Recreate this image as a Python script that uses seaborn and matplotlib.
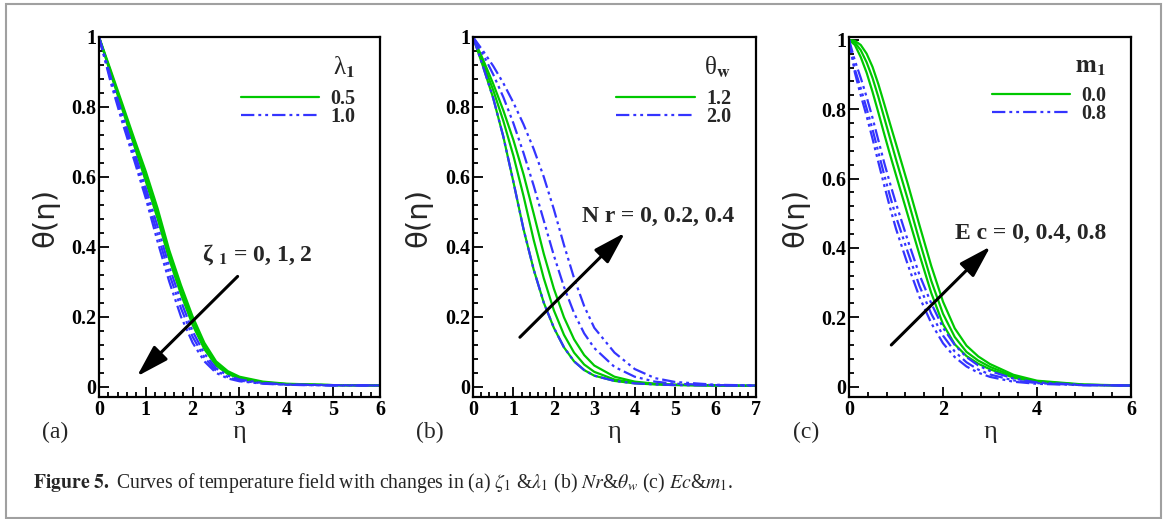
import matplotlib
matplotlib.use("Agg")
import matplotlib.pyplot as plt
from matplotlib.patches import Rectangle
from matplotlib.ticker import MultipleLocator
import seaborn as sns

sns.set_theme(style="white")
plt.rcParams["font.family"] = ["Liberation Serif", "DejaVu Serif"]
plt.rcParams["mathtext.fontset"] = "stix"

GREEN = "#00c800"
BLUE = "#3434ff"
DASHDOTDOT = (0, (6, 1.8, 1.3, 1.8, 1.3, 1.8))

# ---------------- (a) zeta_1 & lambda_1 ----------------
eta_a = [0, 0.25, 0.5, 0.75, 1.0, 1.25, 1.5, 1.75, 2.0, 2.25, 2.5, 2.75, 3.0, 3.5, 4.0, 5.0, 6.0]
theta_a_lam05 = [  # zeta_1 = 0, 1, 2
    [1.0, 0.905, 0.808, 0.71, 0.615, 0.51, 0.39, 0.29, 0.20, 0.125, 0.072, 0.044, 0.028, 0.014, 0.008, 0.004, 0.003],
    [1.0, 0.900, 0.800, 0.70, 0.600, 0.495, 0.377, 0.277, 0.188, 0.116, 0.066, 0.040, 0.025, 0.012, 0.007, 0.004, 0.003],
    [1.0, 0.895, 0.792, 0.69, 0.587, 0.481, 0.364, 0.264, 0.176, 0.107, 0.060, 0.036, 0.023, 0.011, 0.006, 0.004, 0.003],
]
theta_a_lam10 = [
    [1.0, 0.885, 0.778, 0.673, 0.568, 0.458, 0.343, 0.244, 0.158, 0.094, 0.052, 0.031, 0.020, 0.010, 0.006, 0.004, 0.003],
    [1.0, 0.878, 0.766, 0.660, 0.552, 0.437, 0.322, 0.224, 0.142, 0.083, 0.045, 0.027, 0.017, 0.009, 0.005, 0.003, 0.003],
    [1.0, 0.870, 0.755, 0.648, 0.538, 0.415, 0.300, 0.200, 0.125, 0.072, 0.039, 0.023, 0.015, 0.008, 0.005, 0.003, 0.003],
]
legend_a = ["0.5", "1.0"]

# ---------------- (b) Nr & theta_w ----------------
eta_b = [0, 0.25, 0.5, 0.75, 1.0, 1.25, 1.5, 1.75, 2.0, 2.25, 2.5, 2.75, 3.0, 3.5, 4.0, 4.5, 5.0, 6.0, 7.0]
theta_b_w12 = [  # Nr = 0, 0.2, 0.4
    [1.0, 0.915, 0.825, 0.715, 0.585, 0.450, 0.335, 0.240, 0.168, 0.112, 0.072, 0.047, 0.031, 0.016, 0.009, 0.006, 0.004, 0.003, 0.002],
    [1.0, 0.925, 0.848, 0.760, 0.660, 0.545, 0.420, 0.310, 0.218, 0.148, 0.097, 0.063, 0.042, 0.020, 0.011, 0.007, 0.005, 0.003, 0.002],
    [1.0, 0.935, 0.866, 0.790, 0.705, 0.607, 0.495, 0.380, 0.280, 0.198, 0.135, 0.090, 0.060, 0.028, 0.014, 0.008, 0.005, 0.003, 0.002],
]
theta_b_w20 = [
    [1.0, 0.915, 0.825, 0.715, 0.585, 0.450, 0.335, 0.240, 0.168, 0.112, 0.072, 0.047, 0.031, 0.016, 0.009, 0.006, 0.004, 0.003, 0.002],
    [1.0, 0.950, 0.893, 0.828, 0.753, 0.668, 0.575, 0.475, 0.375, 0.285, 0.210, 0.152, 0.110, 0.056, 0.028, 0.014, 0.008, 0.004, 0.003],
    [1.0, 0.960, 0.917, 0.868, 0.812, 0.750, 0.680, 0.600, 0.507, 0.405, 0.310, 0.230, 0.168, 0.097, 0.050, 0.024, 0.013, 0.005, 0.003],
]
legend_b = ["1.2", "2.0"]

# ---------------- (c) Ec & m_1 ----------------
eta_c = [0, 0.125, 0.25, 0.375, 0.5, 0.625, 0.75, 0.875, 1.0, 1.25, 1.5, 1.75, 2.0,
         2.25, 2.5, 2.75, 3.0, 3.5, 4.0, 5.0, 6.0]
theta_c_m00 = [  # Ec = 0, 0.4, 0.8
    [1.0, 0.985, 0.950, 0.905, 0.850, 0.790, 0.728, 0.668, 0.610, 0.495, 0.380, 0.270, 0.180,
     0.122, 0.088, 0.066, 0.050, 0.026, 0.013, 0.005, 0.003],
    [1.0, 0.992, 0.970, 0.935, 0.890, 0.835, 0.775, 0.715, 0.655, 0.540, 0.420, 0.305, 0.210,
     0.143, 0.100, 0.075, 0.057, 0.030, 0.015, 0.005, 0.003],
    [1.0, 0.997, 0.985, 0.960, 0.922, 0.872, 0.815, 0.757, 0.700, 0.585, 0.465, 0.348, 0.245,
     0.168, 0.118, 0.087, 0.065, 0.034, 0.017, 0.006, 0.003],
]
theta_c_m08 = [
    [1.0, 0.905, 0.840, 0.780, 0.715, 0.647, 0.580, 0.515, 0.455, 0.352, 0.258, 0.183, 0.125,
     0.085, 0.058, 0.040, 0.028, 0.014, 0.008, 0.004, 0.003],
    [1.0, 0.915, 0.860, 0.802, 0.742, 0.676, 0.610, 0.548, 0.490, 0.388, 0.290, 0.210, 0.147,
     0.101, 0.070, 0.049, 0.035, 0.018, 0.010, 0.004, 0.003],
    [1.0, 0.940, 0.890, 0.835, 0.775, 0.710, 0.645, 0.585, 0.528, 0.422, 0.322, 0.240, 0.170,
     0.120, 0.085, 0.061, 0.045, 0.023, 0.012, 0.005, 0.003],
]
legend_c = ["0.0", "0.8"]

y_ticks = [0, 0.2, 0.4, 0.6, 0.8, 1.0]
y_ticklabels = ["0", "0.2", "0.4", "0.6", "0.8", "1"]

W, H = 1168, 519
fig = plt.figure(figsize=(W / 100, H / 100), dpi=100)
fig.patch.set_facecolor("white")


def axes_box(left, right, top=37, bottom=397):
    return [left / W, 1 - bottom / H, (right - left) / W, (bottom - top) / H]


def draw_panel(ax, eta, green_sets, blue_sets, labels, title, xmax, xstep, ymax=1.0):
    handles = []
    for i, th in enumerate(green_sets):
        sns.lineplot(x=eta, y=th, ax=ax, color=GREEN, lw=1.6, estimator=None,
                     sort=False, legend=False)
        if i == 0:
            handles.append(ax.lines[-1])
    for i, th in enumerate(blue_sets):
        sns.lineplot(x=eta, y=th, ax=ax, color=BLUE, lw=1.6, linestyle=DASHDOTDOT,
                     estimator=None, sort=False, legend=False)
        if i == 0:
            handles.append(ax.lines[-1])

    ax.set_xlim(0, xmax)
    ax.set_ylim(-0.03, ymax)
    xt = list(range(0, xmax + 1, xstep))
    ax.set_xticks(xt, [str(v) for v in xt], fontweight="bold", fontsize=14.5)
    ax.set_yticks(y_ticks, y_ticklabels, fontweight="bold", fontsize=14.5)
    ax.xaxis.set_minor_locator(MultipleLocator(xstep / 5))
    ax.yaxis.set_minor_locator(MultipleLocator(0.04))
    ax.tick_params(which="both", direction="in", left=True, bottom=True,
                   top=False, right=False, width=1.3, colors="black")
    ax.tick_params(which="major", length=7, pad=2)
    ax.tick_params(which="minor", length=3.5)
    for sp in ax.spines.values():
        sp.set_color("black")
        sp.set_linewidth(1.6)
    ax.set_facecolor("white")

    ax.set_xlabel("η", fontsize=19)
    ax.xaxis.set_label_coords(0.5, -0.068)
    ax.set_ylabel("θ(η)", fontsize=21, family="DejaVu Sans")
    ax.yaxis.set_label_coords(-0.142, 0.5)

    leg = ax.legend(handles, labels, title=title, loc="upper right",
                    bbox_to_anchor=(0.948, 0.978), frameon=False, fontsize=14.5,
                    title_fontsize=18, handlelength=3.9, handletextpad=0.55,
                    labelspacing=-0.1, borderpad=0, alignment="right")
    # extra room between the legend title and its entries
    leg._legend_box.sep = 6
    for t in leg.get_texts():
        t.set_fontweight("bold")
    return ax


arrow_style = dict(arrowstyle="-|>,head_length=1.1,head_width=0.33",
                   mutation_scale=18, lw=2.2, color="black", shrinkA=0, shrinkB=0)

ax_a = fig.add_axes(axes_box(99, 380))
draw_panel(ax_a, eta_a, theta_a_lam05, theta_a_lam10, legend_a,
           r"λ$_{\mathbf{1}}$", 6, 1)
ax_a.annotate("", xy=(0.81, 0.029), xytext=(2.96, 0.315), arrowprops=arrow_style)
ax_a.text(2.2, 0.377, r"ζ $_{\mathbf{1}}$ = 0, 1, 2", fontsize=17,
          fontweight="bold", va="center", ha="left")

ax_b = fig.add_axes(axes_box(473, 756))
draw_panel(ax_b, eta_b, theta_b_w12, theta_b_w20, legend_b,
           r"θ$_{\mathbf{w}}$", 7, 1)
ax_b.annotate("", xy=(3.76, 0.44), xytext=(1.16, 0.141), arrowprops=arrow_style)
ax_b.text(2.7, 0.486, "N r = 0, 0.2, 0.4", fontsize=17, fontweight="bold",
          va="center", ha="left")

ax_c = fig.add_axes(axes_box(849, 1131))
draw_panel(ax_c, eta_c, theta_c_m00, theta_c_m08, legend_c,
           r"$\mathbf{m_1}$", 6, 2, ymax=1.008)
ax_c.annotate("", xy=(3.01, 0.404), xytext=(0.9, 0.12), arrowprops=arrow_style)
ax_c.text(2.26, 0.443, "E c = 0, 0.4, 0.8", fontsize=17, fontweight="bold",
          va="center", ha="left")

# panel tags
for tag, xpix in (("(a)", 55), ("(b)", 430), ("(c)", 806)):
    fig.text(xpix / W, 1 - 432 / H, tag, ha="center", va="center", fontsize=17)

# caption
fig.text(33 / W, 1 - 483 / H,
         r"$\mathbf{Figure\ 5.}$ Curves of temperature field with changes in "
         r"(a) $\zeta_1$ &$\lambda_1$ (b) $Nr$&$\theta_w$ (c) $Ec$&$m_1$.",
         ha="left", va="center", fontsize=14.2)

# outer frame
fig.add_artist(Rectangle((6 / W, 1 - 518 / H), (1161 - 6) / W, (518 - 4) / H,
                         transform=fig.transFigure, fill=False,
                         edgecolor="#a0a0a0", linewidth=1.5))

fig.savefig("out.png", dpi=100, facecolor="white")
